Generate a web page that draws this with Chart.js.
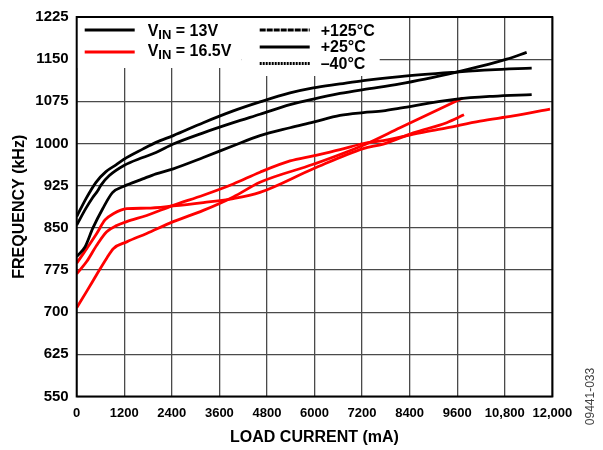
<!DOCTYPE html>
<html>
<head>
<meta charset="utf-8">
<script src="https://cdn.jsdelivr.net/npm/chart.js@4.4.1/dist/chart.umd.min.js"></script>
<style>
  html, body { margin: 0; padding: 0; background: #fff; }
</style>
</head>
<body>
<canvas id="chart" width="603" height="450"></canvas>
<script>
// axis ticks
var xTicks = [0, 1200, 2400, 3600, 4800, 6000, 7200, 8400, 9600, 10800, 12000];
var xTickLabels = ['0', '1200', '2400', '3600', '4800', '6000', '7200', '8400', '9600', '10,800', '12,000'];
var yTickLabels = ['550', '625', '700', '775', '850', '925', '1000', '1075', '1150', '1225'];

// VIN = 13V (black): load current (mA) / frequency (kHz)
var curA13 = [0, 235, 487, 739, 992, 1193, 1665, 2001, 2437, 3194, 3951, 4625, 5382, 5969, 6643, 7231, 8157, 9587, 10428, 11480];
var frqA13 = [870, 902, 931, 950, 962, 972, 990, 1002, 1014, 1037, 1058, 1074, 1090, 1099, 1106, 1112, 1119, 1127, 1131, 1134];
var curB13 = [0, 235, 404, 530, 613, 823, 1193, 1665, 2001, 2437, 3194, 3951, 4625, 5382, 5969, 6643, 7231, 8157, 9587, 10175, 10849, 11353];
var frqB13 = [855, 885, 904, 916, 926, 943, 961, 975, 984, 999, 1019, 1037, 1052, 1069, 1079, 1089, 1096, 1106, 1127, 1137, 1150, 1162];
var curC13 = [0, 209, 404, 656, 908, 1193, 1665, 2001, 2437, 3194, 3951, 4625, 5382, 5969, 6643, 7231, 7735, 8157, 9587, 10500, 11480];
var frqC13 = [799, 816, 849, 884, 913, 924, 937, 946, 955, 975, 996, 1014, 1028, 1038, 1050, 1055, 1058, 1063, 1079, 1084, 1087];

// VIN = 16.5V (red)
var curA165 = [0, 252, 505, 757, 1009, 1262, 1766, 2437, 3194, 3951, 4625, 5382, 5969, 6643, 7231, 7735, 8662, 9335, 10176, 11016, 11942];
var frqA165 = [768, 790, 819, 843, 854, 861, 872, 890, 908, 928, 949, 969, 978, 989, 1000, 1005, 1019, 1028, 1040, 1049, 1061];
var curB165 = [0, 252, 505, 757, 923, 1262, 1766, 2437, 3194, 3951, 4625, 5969, 7231, 8157, 9739];
var frqB165 = [708, 737, 767, 796, 813, 825, 840, 861, 881, 905, 931, 963, 997, 1028, 1081];
var curC165 = [0, 252, 505, 714, 923, 1262, 1766, 2437, 3194, 3951, 4625, 5969, 7231, 7735, 8493, 9335, 9772];
var frqC165 = [787, 813, 840, 864, 875, 884, 885, 889, 895, 902, 913, 955, 991, 999, 1019, 1037, 1051];

function pts(xs, ys) {
    return xs.map(function(x, i) { return {x: x, y: ys[i]}; });
}

function line(xs, ys, color) {
    return {
        data: pts(xs, ys),
        borderColor: color,
        borderWidth: 2.8,
        pointRadius: 0,
        fill: false,
        cubicInterpolationMode: 'monotone'
    };
}

var FONT = "'Liberation Sans', Arial, sans-serif";

// subscript text helper: V + IN + rest
function vinText(ctx, x, y, rest) {
    ctx.font = 'bold 16px ' + FONT;
    ctx.fillText('V', x, y);
    var w = ctx.measureText('V').width;
    ctx.font = 'bold 13px ' + FONT;
    ctx.fillText('IN', x + w, y + 3);
    w += ctx.measureText('IN').width;
    ctx.font = 'bold 16px ' + FONT;
    ctx.fillText(rest, x + w, y);
}

var legendBox = {
    id: 'legendBox',
    beforeDatasetsDraw: function(chart) {
        var ctx = chart.ctx, a = chart.chartArea;
        var L = a.left, T = a.top;
        ctx.save();
        // white box hides grid under legend
        ctx.fillStyle = '#fff';
        ctx.fillRect(L, T, 165, 51);
        ctx.fillRect(L + 165, T, 138, 59);

        ctx.lineWidth = 2.8;
        ctx.lineCap = 'butt';
        ctx.strokeStyle = '#000';
        ctx.beginPath(); ctx.moveTo(L + 8, T + 13); ctx.lineTo(L + 58, T + 13); ctx.stroke();
        ctx.strokeStyle = '#ff0000';
        ctx.beginPath(); ctx.moveTo(L + 8, T + 35); ctx.lineTo(L + 58, T + 35); ctx.stroke();

        ctx.strokeStyle = '#000';
        ctx.setLineDash([6, 1]);
        ctx.beginPath(); ctx.moveTo(L + 183, T + 13); ctx.lineTo(L + 233, T + 13); ctx.stroke();
        ctx.setLineDash([]);
        ctx.beginPath(); ctx.moveTo(L + 183, T + 30); ctx.lineTo(L + 233, T + 30); ctx.stroke();
        ctx.setLineDash([2, 1]);
        ctx.beginPath(); ctx.moveTo(L + 183, T + 46.5); ctx.lineTo(L + 233, T + 46.5); ctx.stroke();
        ctx.setLineDash([]);

        ctx.fillStyle = '#000';
        ctx.textAlign = 'left';
        ctx.textBaseline = 'alphabetic';
        vinText(ctx, L + 71, T + 18.5, ' = 13V');
        vinText(ctx, L + 71, T + 38.5, ' = 16.5V');
        ctx.font = 'bold 16px ' + FONT;
        ctx.fillText('+125°C', L + 244, T + 18.5);
        ctx.fillText('+25°C', L + 244, T + 35);
        ctx.fillText('\u201340°C', L + 244, T + 51.5);
        ctx.restore();
    },
    afterDatasetsDraw: function(chart) {
        var ctx = chart.ctx, a = chart.chartArea;
        ctx.save();
        ctx.strokeStyle = '#000';
        ctx.lineWidth = 2;
        ctx.strokeRect(a.left, a.top, a.right - a.left, a.bottom - a.top);
        // figure id on the right side
        ctx.translate(a.right + 38, a.bottom);
        ctx.rotate(-Math.PI / 2);
        ctx.fillStyle = '#444';
        ctx.font = '12px ' + FONT;
        ctx.textAlign = 'center';
        ctx.textBaseline = 'middle';
        ctx.fillText('09441-033', 0, 0);
        ctx.restore();
    }
};

new Chart(document.getElementById('chart'), {
    type: 'line',
    data: {
        datasets: [
            line(curA13, frqA13, '#000'),
            line(curB13, frqB13, '#000'),
            line(curC13, frqC13, '#000'),
            line(curA165, frqA165, '#ff0000'),
            line(curB165, frqB165, '#ff0000'),
            line(curC165, frqC165, '#ff0000')
        ]
    },
    options: {
        responsive: false,
        animation: false,
        devicePixelRatio: 1,
        layout: { padding: { top: 13.5, right: 50.7, left: 0, bottom: 0 } },
        plugins: { legend: { display: false }, tooltip: { enabled: false } },
        scales: {
            x: {
                type: 'linear',
                min: 0,
                max: 12000,
                afterBuildTicks: function(s) { s.ticks = xTicks.map(function(v) { return {value: v}; }); },
                afterFit: function(s) { s.height = 53.5; },
                grid: { color: '#4a4a4a', lineWidth: 1.3, drawTicks: false },
                border: { display: false },
                ticks: {
                    padding: 9,
                    maxRotation: 0,
                    autoSkip: false,
                    color: '#000',
                    font: { family: FONT, size: 13, weight: 'bold' },
                    callback: function(v, i) { return xTickLabels[i]; }
                },
                title: {
                    display: true,
                    text: 'LOAD CURRENT (mA)',
                    color: '#000',
                    font: { family: FONT, size: 16, weight: 'bold' },
                    padding: { top: 0, bottom: 3 }
                }
            },
            y: {
                min: 550,
                max: 1225,
                afterBuildTicks: function(s) { s.ticks = yTickLabels.map(function(v) { return {value: +v}; }); },
                afterFit: function(s) { s.width = 76.7; },
                grid: { color: '#4a4a4a', lineWidth: 1.3, drawTicks: false },
                border: { display: false },
                ticks: {
                    padding: 8,
                    autoSkip: false,
                    color: '#000',
                    font: { family: FONT, size: 15, weight: 'bold' },
                    callback: function(v, i) { return yTickLabels[i]; }
                },
                title: {
                    display: true,
                    text: 'FREQUENCY (kHz)',
                    color: '#000',
                    font: { family: FONT, size: 16, weight: 'bold' },
                    padding: { top: 10, bottom: 0 }
                }
            }
        }
    },
    plugins: [legendBox]
});
</script>
</body>
</html>
